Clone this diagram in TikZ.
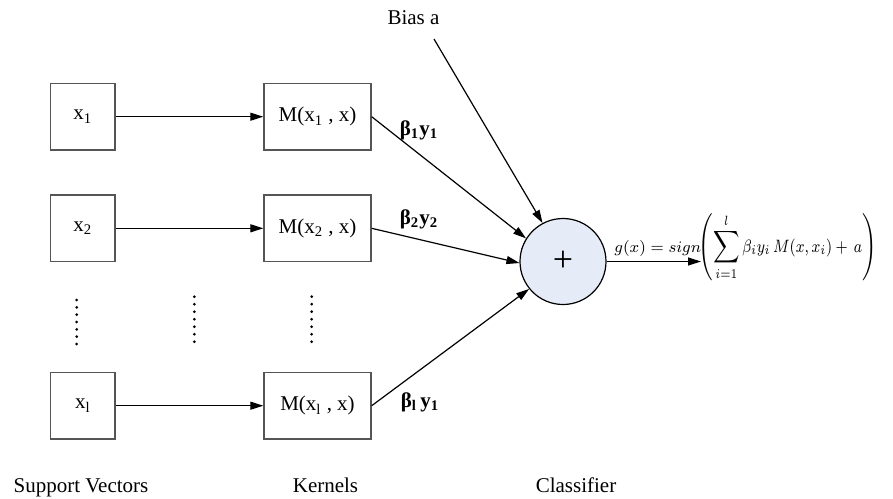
\documentclass[tikz,border=0pt]{standalone}
\usepackage{fontspec}
\usepackage{graphicx}
\setmainfont{Liberation Serif}
\usetikzlibrary{arrows.meta}
\definecolor{circfill}{RGB}{230,236,247}
\definecolor{boxline}{RGB}{85,85,85}
\begin{document}
\begin{tikzpicture}[x=0.5pt,y=-0.5pt,
  txt/.style={font=\fontsize{10.5}{12.6}\selectfont, inner sep=0pt},
  vbox/.style={draw=boxline, line width=0.7pt, minimum width=32.15pt, minimum height=33.35pt, inner sep=0pt, font=\fontsize{10.5}{12.6}\selectfont},
  kbox/.style={vbox, minimum width=53.5pt},
  conn/.style={line width=0.6pt, -{Triangle[length=6.5pt,width=4pt]}},
  wlabel/.style={font=\fontsize{10.5}{12.6}\selectfont\bfseries, inner sep=0pt}
]
\useasboundingbox (0,0) rectangle (893,498);
% input vectors
\node[vbox] (v1) at (82.85,116.7) {x\textsubscript{1}};
\node[vbox] (v2) at (82.85,228.3) {x\textsubscript{2}};
\node[vbox] (v3) at (82.85,405.7) {x\textsubscript{l}};
% kernels
\node[kbox] (k1) at (317.5,116.7) {M(x\textsubscript{1} , x)};
\node[kbox] (k2) at (317.5,228.3) {M(x\textsubscript{2} , x)};
\node[kbox] (k3) at (317.5,405.7) {M(x\textsubscript{l} , x)};
% classifier
\node[circle, draw, fill=circfill, minimum size=43pt, inner sep=0pt, line width=0.6pt, font=\fontsize{18}{20}\selectfont] (sum) at (563,261.5) {+};
% connectors
\draw[conn] (v1) -- (k1);
\draw[conn] (v2) -- (k2);
\draw[conn] (v3) -- (k3);
\draw[conn] (k1.east) -- (sum.148);
\draw[conn] (k2.east) -- (sum.182);
\draw[conn] (k3.east) -- (sum.219);
% bias
\node[txt, anchor=base] (bias) at (413.5,25) {Bias a};
\coordinate (biasstart) at (434,39);
\draw[conn] (biasstart) -- (sum.118);
% output
\coordinate (outend) at (701,261.5);
\draw[conn] (sum.east) -- (outend);
\node[anchor=base west, inner sep=0pt, font=\fontsize{8.3}{10}\selectfont] (formula) at (614,252)
  {$g(x) = sign$\scalebox{0.92}[1.12]{$\displaystyle\!\left(\sum_{i=1}^{l}\beta_i y_i\, M(x,x_i) +\, a\right)$}};
% weight labels
\node[wlabel] (w1) at (419,130) {β\textsubscript{1}y\textsubscript{1}};
\node[wlabel] (w2) at (419,219) {β\textsubscript{2}y\textsubscript{2}};
\node[wlabel] (w3) at (420,402) {β\textsubscript{l}\,y\textsubscript{1}};
% dots
\foreach \x/\ya/\yb in {76.7/300/344, 194.3/296.7/341.7, 311.7/296.7/341.7}
  \foreach \i in {0,...,6}
    \fill ({\x},{\ya+\i*(\yb-\ya)/6}) circle (0.75pt);
% column labels
\node[txt, anchor=base] (lsv) at (81,492) {Support Vectors};
\node[txt, anchor=base] (lk) at (325.5,492) {Kernels};
\node[txt, anchor=base] (lc) at (576,492) {Classifier};
\end{tikzpicture}
\end{document}
